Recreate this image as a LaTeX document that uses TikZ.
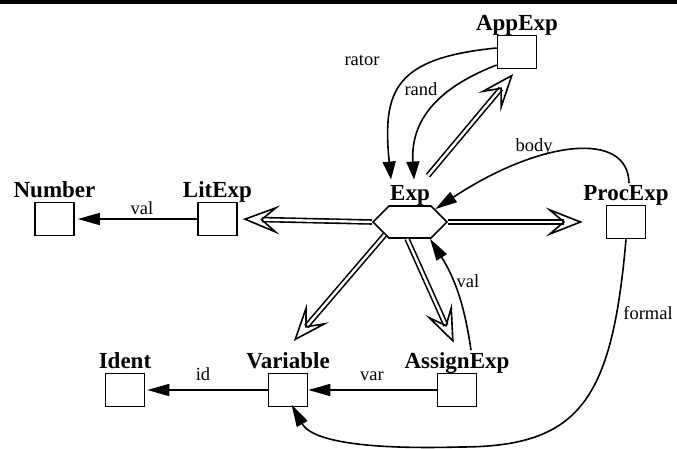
\documentclass[tikz,border=0pt]{standalone}
\usepackage{fontspec}
\setmainfont{Liberation Serif}
\usetikzlibrary{arrows.meta, shapes.symbols}
\tikzset{every node/.append style={align=center}}

\begin{document}
\begin{tikzpicture}[x=1pt,y=-1pt,
  cls/.style={draw, line width=1.6pt, minimum width=39pt, minimum height=33pt, inner sep=0pt},
  hexa/.style={draw, line width=1.6pt, signal, signal to=east and west,
               signal pointer angle=90, minimum width=74pt, minimum height=32pt, inner sep=0pt},
  clsname/.style={font=\fontsize{23}{26}\selectfont\bfseries, text depth=0.22em, inner sep=2pt},
  role/.style={font=\fontsize{18.5}{20}\selectfont, inner sep=1pt},
  ref/.style={line width=1.6pt, -{Triangle[length=22pt,width=12pt]}},
  isa/.style={double, double distance=2.4pt, line width=1.6pt,
              -{Stealth[open, length=37pt, width=29pt, inset=17pt, line width=1.6pt]}}]

\useasboundingbox (0,0) rectangle (677,448);
\fill (0,0) rectangle (677,3.5);

% ── Classes ──────────────────────────────────────────────────────────────────
\node[cls, label={[clsname, name=number-l]above:Number}] (number) at (54.5,219) {};
\node[cls, label={[clsname, name=litexp-l]above:LitExp}] (litexp) at (217.5,219) {};
\node[hexa, label={[clsname, name=exp-l]above:Exp}] (exp) at (410,222) {};
\node[cls, label={[clsname, name=procexp-l]above:ProcExp}] (procexp) at (626,222) {};
\node[cls, label={[clsname, name=appexp-l]above:AppExp}] (appexp) at (517,52) {};
\node[cls, label={[clsname, name=ident-l]above:Ident}] (ident) at (125,390) {};
\node[cls, label={[clsname, name=variable-l]above:Variable}] (variable) at (288,390) {};
\node[cls, label={[clsname, name=assignexp-l]above:AssignExp}] (assignexp) at (457,390) {};

% ── Subclass arrows ──────────────────────────────────────────────────────────
\draw[isa, shorten >=5pt] (exp.west) -- (litexp.east);
\draw[isa, shorten >=23pt] (exp.east) -- (procexp.west);
\draw[isa, shorten >=6pt] ([xshift=-4pt,yshift=8pt]exp-l.north east) -- (appexp.south);
\draw[isa, shorten >=12pt] (exp.207) -- ([xshift=-2pt]variable-l.north);
\draw[isa, shorten >=8pt] (exp.-100) -- (assignexp-l.north);

% ── Fields ───────────────────────────────────────────────────────────────────
\draw[ref, shorten >=3pt] (litexp) -- (number);
\draw[ref, shorten >=2pt] (variable) -- (ident);
\draw[ref] (assignexp) -- (variable);
\draw[ref, -{Triangle[length=18pt,width=13pt]}] ([yshift=4pt]appexp.west)
      .. controls (395,58) and (382,90) .. ([xshift=-19pt,yshift=4pt]exp-l.north);
\draw[ref, -{Triangle[length=18pt,width=13pt]}] ([yshift=-13pt]appexp.west)
      .. controls (445,85) and (410,115) .. ([xshift=4pt,yshift=4pt]exp-l.north);
\draw[ref] ([xshift=3pt]procexp-l.north) .. controls (628,130) and (540,140) .. (exp.27);
\draw[ref] ([xshift=14pt]assignexp-l.north) to[bend right=12] (exp.-40);
\draw[ref, shorten >=-3pt] (procexp.south) .. controls (612,400) and (580,447) .. (460,447)
      .. controls (350,450) and (310,438) .. ([xshift=5pt]variable.south);

% field names
\node[role] (val-lit) at (142,208) {val};
\node[role] (rator-l) at (362,60) {rator};
\node[role] (rand-l) at (421,89) {rand};
\node[role] (body-l) at (534,147) {body};
\node[role] (val-asg) at (468,281) {val};
\node[role] (id-l) at (203,374) {id};
\node[role] (var-l) at (372,376) {var};
\node[role] (formal-l) at (648,313) {formal};

\end{tikzpicture}
\end{document}
